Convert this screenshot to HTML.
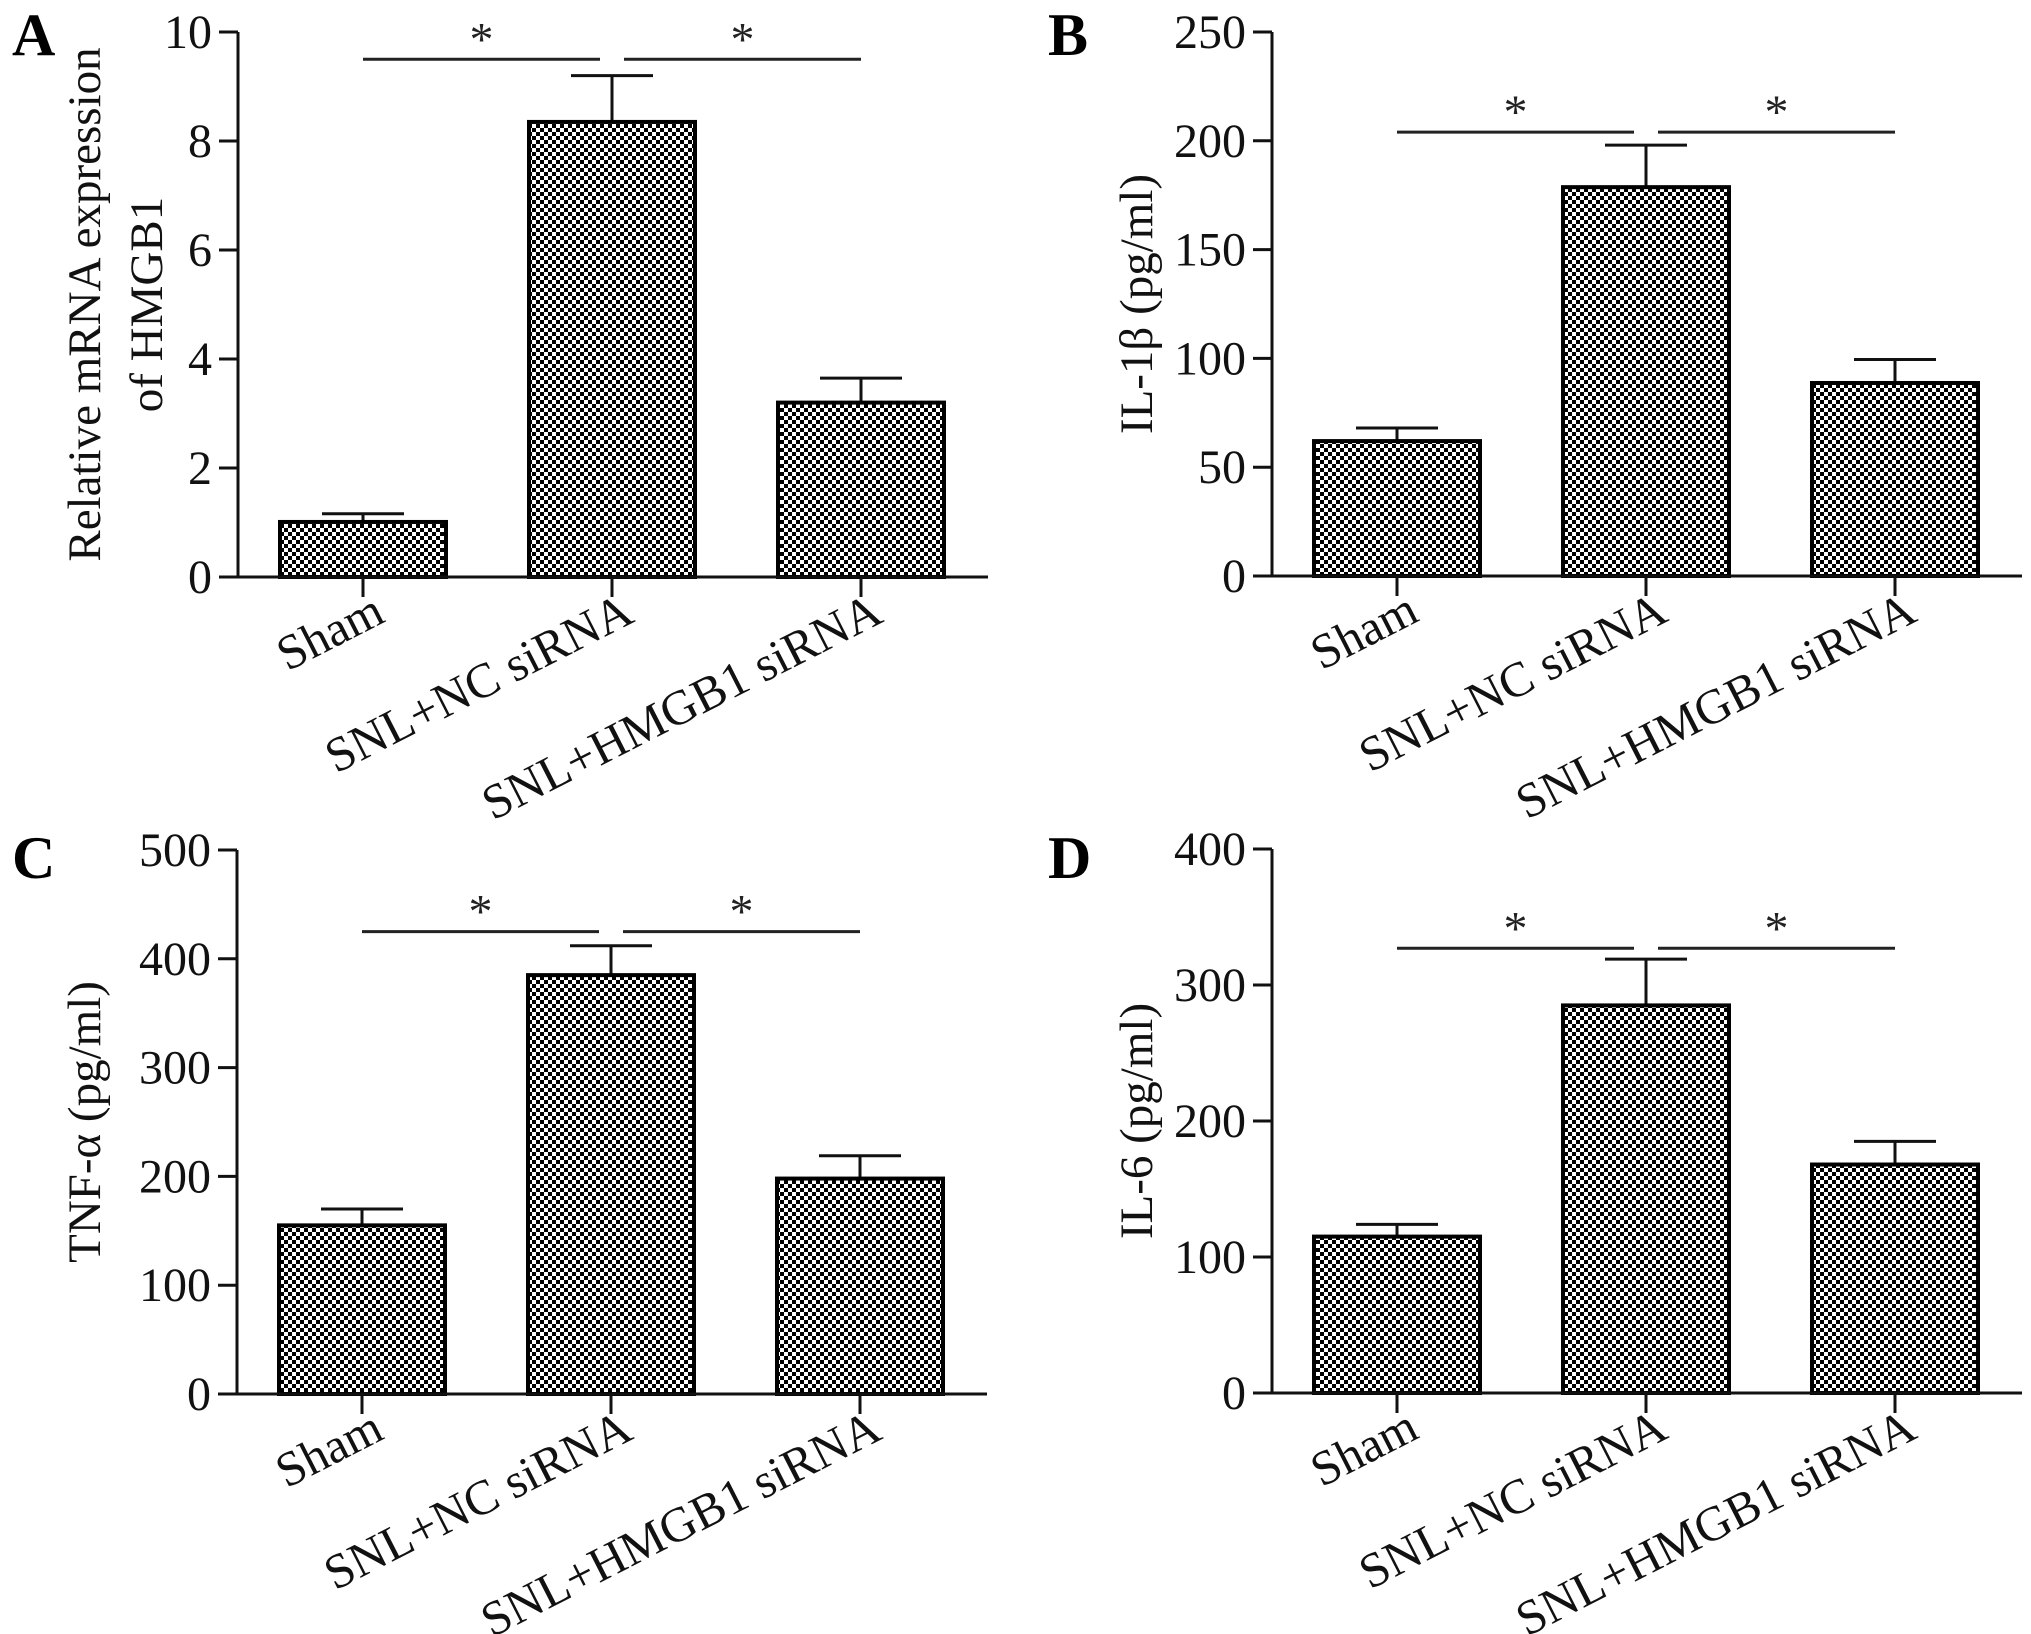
<!DOCTYPE html>
<html><head><meta charset="utf-8"><style>
html,body{margin:0;padding:0;background:#fff;}
svg{display:block;font-family:"Liberation Serif",serif;}
</style></head><body>
<svg id="fig" width="2031" height="1634" viewBox="0 0 2031 1634" xmlns="http://www.w3.org/2000/svg">
<defs>
<pattern id="chk" width="8" height="8" patternUnits="userSpaceOnUse">
<rect width="8" height="8" fill="#000"/>
<rect x="0" y="0" width="4" height="4" fill="#fff"/>
<rect x="4" y="4" width="4" height="4" fill="#fff"/>
</pattern>
</defs>
</svg>
<script>
const categories = ["Sham", "SNL+NC siRNA", "SNL+HMGB1 siRNA"];
const meansA = [1.01, 8.35, 3.2];
const errA = [1.16, 9.2, 3.65];
const meansB = [62, 178.7, 88.7];
const errB = [68, 198, 99.5];
const meansC = [155, 385, 198];
const errC = [170, 412, 219];
const meansD = [115, 285, 168];
const errD = [124, 319, 185];
const ticksA = [0, 2, 4, 6, 8, 10];
const ticksB = [0, 50, 100, 150, 200, 250];
const ticksC = [0, 100, 200, 300, 400, 500];
const ticksD = [0, 100, 200, 300, 400];
const sigA = 9.5, sigB = 204, sigC = 425, sigD = 327;

const NS = "http://www.w3.org/2000/svg";
const svg = document.getElementById("fig");
function mk(tag, attrs, parent, text) {
  const e = document.createElementNS(NS, tag);
  for (const k in attrs) e.setAttribute(k, attrs[k]);
  if (text !== undefined) e.textContent = text;
  parent.appendChild(e);
  return e;
}

const panels = [
  {id:"a", letter:"A", ox:238, base:577, top:32, max:10, ticks:ticksA, means:meansA, err:errA, sig:sigA, lx:12, ly:55, title:["Relative mRNA expression","of HMGB1"], tx:[100,162]},
  {id:"b", letter:"B", ox:1272, base:576, top:32, max:250, ticks:ticksB, means:meansB, err:errB, sig:sigB, lx:1048, ly:55, title:["IL-1β (pg/ml)"], tx:[1152]},
  {id:"c", letter:"C", ox:237, base:1394, top:850, max:500, ticks:ticksC, means:meansC, err:errC, sig:sigC, lx:12, ly:878, title:["TNF-α (pg/ml)"], tx:[100]},
  {id:"d", letter:"D", ox:1272, base:1393, top:849, max:400, ticks:ticksD, means:meansD, err:errD, sig:sigD, lx:1048, ly:878, title:["IL-6 (pg/ml)"], tx:[1152]}
];

panels.forEach(p => {
  const g = mk("g", {}, svg);
  
  
  const y = v => p.base - (v / p.max) * (p.base - p.top);
  const x = i => p.ox + 125 + i * 249;
  const L = mk("text", {x:p.lx, y:p.ly, "font-size":60, "font-weight":"bold"}, g, p.letter);
  
  
  const ya = mk("line", {x1:p.ox, y1:p.top, x2:p.ox, y2:p.base, stroke:"#111", "stroke-width":3}, g);
  
  
  p.ticks.forEach(t => {
    const ty = y(t);
    const tk = mk("line", {x1:p.ox-19, y1:ty, x2:p.ox, y2:ty, stroke:"#111", "stroke-width":3}, g);
    
    
    const tl = mk("text", {x:p.ox-26, y:ty+16, "font-size":48, "text-anchor":"end", fill:"#111"}, g, String(t));
    
    
  });
  const cy = (p.top + p.base) / 2;
  p.title.forEach((t, k) => {
    const tt = mk("text", {x:0, y:0, "font-size":47, "text-anchor":"middle", fill:"#111",
      transform:`translate(${p.tx[k]},${cy}) rotate(-90)`}, g, t);
    
    
  });
  categories.forEach((c, i) => {
    const cx = x(i);
    const ec = mk("line", {x1:cx, y1:y(p.err[i]), x2:cx, y2:y(p.means[i]), stroke:"#111", "stroke-width":3}, g);
    
    
    const cap = mk("line", {x1:cx-41, y1:y(p.err[i]), x2:cx+41, y2:y(p.err[i]), stroke:"#111", "stroke-width":3}, g);
    
    
    const b = mk("rect", {x:cx-83, y:y(p.means[i]), width:166, height:p.base - y(p.means[i]), fill:"url(#chk)", stroke:"#000", "stroke-width":4}, g);
    
    
    const xt = mk("line", {x1:cx, y1:p.base, x2:cx, y2:p.base+20, stroke:"#111", "stroke-width":3}, g);
    
    
    const xl = mk("text", {x:0, y:0, "font-size":49, "text-anchor":"end", fill:"#111",
      transform:`translate(${cx+24},${p.base+44}) rotate(-27)`}, g, c);
    
    
  });
  const xa = mk("line", {x1:p.ox-18, y1:p.base, x2:p.ox+750, y2:p.base, stroke:"#111", "stroke-width":3}, g);
  
  
  const sy = y(p.sig);
  const segs = [[x(0), x(1)-12], [x(1)+12, x(2)]];
  segs.forEach(s => {
    const l = mk("line", {x1:s[0], y1:sy, x2:s[1], y2:sy, stroke:"#222", "stroke-width":3}, g);
    
    
    const st = mk("text", {x:(s[0]+s[1])/2, y:sy-4, "font-size":48, "text-anchor":"middle", fill:"#222"}, g, "*");
    
    
  });
});
</script>
</body></html>
